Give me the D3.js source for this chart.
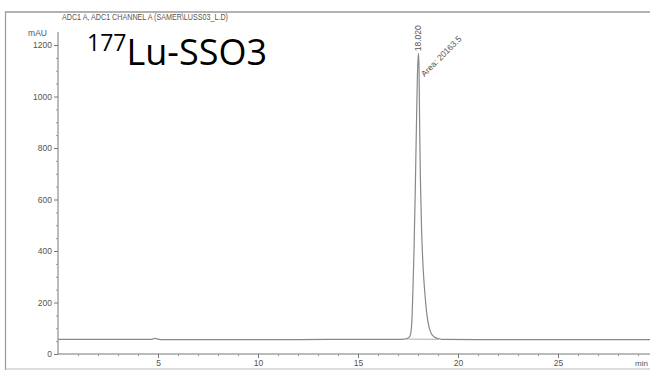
<!DOCTYPE html>
<html><head><meta charset="utf-8">
<script src="https://cdn.jsdelivr.net/npm/d3@7"></script>
<style>body{margin:0;background:#fff}svg{display:block}</style>
</head><body>
<script>
// Data (time in min, signal in mAU)
const times = [0, 2, 4.7, 4.85, 4.95, 5.1, 8, 12, 15, 17, 17.3, 17.5, 17.6, 17.68, 17.74, 17.8, 17.86, 17.92, 17.97, 18.02, 18.05, 18.08, 18.12, 18.18, 18.26, 18.35, 18.45, 18.55, 18.65, 18.8, 19.0, 19.2, 22, 25, 29.7];
const signal = [57, 57, 57, 61, 59, 56, 56, 56, 57, 57, 58, 62, 70, 110, 230, 400, 620, 880, 1080, 1168, 1120, 900, 680, 480, 330, 230, 150, 105, 82, 67, 60, 57, 56, 56, 56];
const xTicksMajor = [5, 10, 15, 20, 25];
const yTicksMajor = [0, 200, 400, 600, 800, 1000, 1200];
const peakTime = 18.02, peakHeight = 1168;
const peakLabel = "18.020";
const areaLabel = "Area: 20163.5";
const header = "ADC1 A, ADC1 CHANNEL A (SAMER\\LUSS03_L.D)";

const W = 650, H = 370;
const font = "Liberation Sans, Arial, sans-serif";
const svg = d3.select("body").append("svg").attr("width", W).attr("height", H);
const x = d3.scaleLinear().domain([0, 29.6]).range([58, 650]);
const y = d3.scaleLinear().domain([0, 1200]).range([354, 45]);

// frame
svg.append("line").attr("x1", 5).attr("x2", 650).attr("y1", 12).attr("y2", 12).attr("stroke", "#999").attr("stroke-width", 1.5);
svg.append("line").attr("x1", 5.5).attr("x2", 5.5).attr("y1", 12).attr("y2", 370).attr("stroke", "#999").attr("stroke-width", 1.2);
svg.append("line").attr("x1", 5).attr("x2", 650).attr("y1", 369).attr("y2", 369).attr("stroke", "#bbb").attr("stroke-width", 1);

svg.append("text").attr("x", 62).attr("y", 20).attr("font-family", font)
  .attr("font-size", 8.6).attr("fill", "#555").attr("textLength", 166).attr("lengthAdjust", "spacingAndGlyphs").text(header);

const axCol = "#777", txtCol = "#555";
// y axis
const yAxis = d3.axisLeft(y).tickValues(yTicksMajor).tickFormat(d3.format("d")).tickSize(4).tickSizeOuter(0);
const gy = svg.append("g").attr("transform", "translate(58,0)").call(yAxis);
gy.select(".domain").attr("stroke", axCol).attr("d", "M0,354V32");
gy.selectAll(".tick line").attr("stroke", axCol);
gy.selectAll(".tick text").attr("fill", txtCol).attr("font-family", font).attr("font-size", 8.5).attr("x", -6);
const gyMinor = svg.append("g").attr("transform", "translate(58,0)").call(
  d3.axisLeft(y).tickValues(d3.range(50, 1250, 50).filter(v => v % 200 !== 0)).tickSize(2).tickFormat(""));
gyMinor.select(".domain").remove();
gyMinor.selectAll(".tick line").attr("stroke", "#999");
svg.append("text").attr("x", 47).attr("y", 36).attr("text-anchor", "end").attr("font-family", font)
  .attr("font-size", 8.5).attr("fill", txtCol).text("mAU");

// x axis
const xAxis = d3.axisBottom(x).tickValues(xTicksMajor).tickSize(4).tickSizeOuter(0);
const gx = svg.append("g").attr("transform", "translate(0,354)").call(xAxis);
gx.select(".domain").attr("stroke", axCol).attr("d", "M58,0H650");
gx.selectAll(".tick line").attr("stroke", axCol);
gx.selectAll(".tick text").attr("fill", txtCol).attr("font-family", font).attr("font-size", 8.5).attr("y", 6);
const gxMinor = svg.append("g").attr("transform", "translate(0,354)").call(
  d3.axisBottom(x).tickValues(d3.range(1, 30, 1).filter(v => v % 5 !== 0)).tickSize(2).tickFormat(""));
gxMinor.select(".domain").remove();
gxMinor.selectAll(".tick line").attr("stroke", "#999");
svg.append("text").attr("x", 648).attr("y", 366).attr("text-anchor", "end").attr("font-family", font)
  .attr("font-size", 8).attr("fill", txtCol).text("min");

// trace
const pts = times.map((t, i) => [t, signal[i]]);
svg.append("path").datum(pts)
  .attr("d", d3.line().x(d => x(d[0])).y(d => y(d[1])).curve(d3.curveMonotoneX))
  .attr("fill", "none").attr("stroke", "#888").attr("stroke-width", 1.2);

// integration baseline
svg.append("line").attr("x1", x(17.4)).attr("x2", x(19.05)).attr("y1", y(58)).attr("y2", y(57))
  .attr("stroke", "#999").attr("stroke-width", 0.8);

// peak annotations
svg.append("text").attr("transform", `translate(${x(peakTime) + 3},${y(peakHeight) - 2}) rotate(-90)`)
  .attr("font-family", font).attr("font-size", 8.5).attr("fill", "#555").text(peakLabel);
svg.append("text").attr("transform", `translate(${x(peakTime) + 6},${y(peakHeight) + 24}) rotate(-45)`)
  .attr("font-family", font).attr("font-size", 8.5).attr("fill", "#555").text(areaLabel);

// sample title
const title = svg.append("text").attr("x", 87).attr("y", 65).attr("font-family", "Open Sans, sans-serif").attr("fill", "#000");
title.append("tspan").attr("font-size", 23).attr("dy", -14).text("177");
title.append("tspan").attr("font-size", 36).attr("dy", 14).text("Lu-SSO3");
</script>
</body></html>
